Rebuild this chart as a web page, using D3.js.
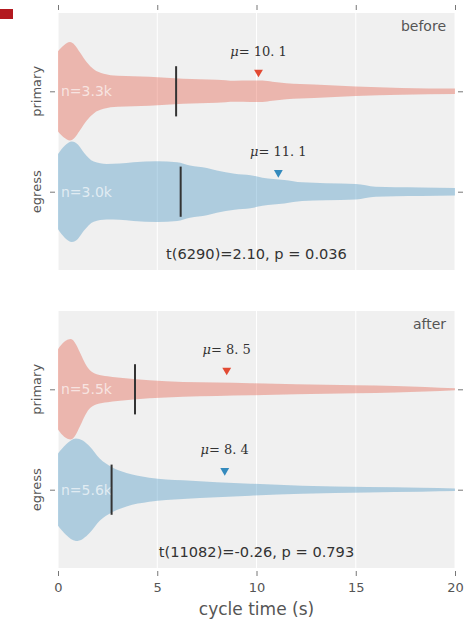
<!DOCTYPE html>
<html lang="en">
<head>
<meta charset="UTF-8">
<title>cycle time</title>
<script src="https://d3js.org/d3.v7.min.js"></script>
<style>
  body { margin: 0; background: #fff; }
  text { font-family: "DejaVu Sans", sans-serif; }
</style>
</head>
<body>
<div id="chart"></div>
<script>
var width = 475, height = 621;

var panels = ["before", "after"];
var categories = ["primary", "egress"];
var tickValues = [0, 5, 10, 15, 20];
var counts = [["n=3.3k", "n=3.0k"], ["n=5.5k", "n=5.6k"]];
var medians = [[5.95, 6.18], [3.88, 2.70]];
var means = [[10.1, 11.1], [8.5, 8.4]];
var stats = ["t(6290)=2.10, p = 0.036", "t(11082)=-0.26, p = 0.793"];

var beforePrimaryX = [0, 0.3, 0.6, 0.85, 1.1, 1.45, 1.8, 2.3, 3.0, 4.6, 6.3, 8.0, 8.9, 9.7, 10.3, 10.8, 11.5, 12.9, 15, 17.3, 20];
var beforePrimaryW = [0.40, 0.46, 0.49, 0.46, 0.39, 0.29, 0.22, 0.175, 0.155, 0.145, 0.125, 0.115, 0.105, 0.107, 0.107, 0.095, 0.08, 0.067, 0.047, 0.034, 0.027];
var beforeEgressX = [0, 0.35, 0.7, 1.0, 1.3, 1.8, 2.45, 3.1, 3.8, 5.0, 6.0, 6.65, 7.5, 8.0, 8.9, 9.7, 10.3, 11.4, 12.3, 13.5, 15, 16, 17, 18.3, 20];
var beforeEgressW = [0.375, 0.46, 0.50, 0.47, 0.39, 0.30, 0.277, 0.28, 0.293, 0.303, 0.293, 0.26, 0.235, 0.21, 0.18, 0.165, 0.14, 0.117, 0.093, 0.085, 0.077, 0.05, 0.045, 0.043, 0.037];
var afterPrimaryX = [0, 0.3, 0.65, 0.9, 1.1, 1.45, 1.95, 2.5, 3.0, 4.6, 6.3, 8.0, 9.7, 12, 15, 17, 18.5, 20];
var afterPrimaryW = [0.40, 0.47, 0.50, 0.45, 0.37, 0.23, 0.15, 0.13, 0.117, 0.09, 0.073, 0.067, 0.06, 0.05, 0.04, 0.033, 0.023, 0.01];
var afterEgressX = [0, 0.4, 0.9, 1.25, 1.6, 2.1, 2.7, 3.45, 4.6, 6.3, 8.0, 9.7, 12.3, 15.6, 18.3, 20];
var afterEgressW = [0.36, 0.45, 0.51, 0.49, 0.43, 0.31, 0.227, 0.167, 0.12, 0.093, 0.075, 0.06, 0.04, 0.027, 0.02, 0.013];

var colors = ["#E24A33", "#348ABD"];

function zip(xs, ws) {
    return xs.map(function (x, i) { return {x: x, w: ws[i]}; });
}
var profiles = [
    [zip(beforePrimaryX, beforePrimaryW), zip(beforeEgressX, beforeEgressW)],
    [zip(afterPrimaryX, afterPrimaryW), zip(afterEgressX, afterEgressW)]
];

var left = 58, right = 455, panelH = 257;
var panelTops = [13, 311];

var x = d3.scaleLinear().domain([0, 20]).range([left, right]);

var svg = d3.select("#chart")
    .append("svg")
    .attr("width", width)
    .attr("height", height);

svg.append("rect")
    .attr("x", 0).attr("y", 9)
    .attr("width", 13).attr("height", 10)
    .attr("fill", "#b3191f");

panels.forEach(function (name, p) {
    var top = panelTops[p];
    var y = d3.scaleLinear().domain([-0.78, 1.78]).range([top, top + panelH]);
    var unit = y(1) - y(0);
    var g = svg.append("g");

    g.append("rect")
        .attr("x", left).attr("y", top)
        .attr("width", right - left).attr("height", panelH)
        .attr("fill", "#f0f0f0");

    g.selectAll(".grid")
        .data(tickValues)
        .enter().append("line")
        .attr("x1", function (d) { return x(d); })
        .attr("x2", function (d) { return x(d); })
        .attr("y1", top).attr("y2", top + panelH)
        .attr("stroke", "#fff")
        .attr("stroke-width", 1);

    g.append("clipPath").attr("id", "clip" + p)
        .append("rect")
        .attr("x", left).attr("y", top)
        .attr("width", right - left).attr("height", panelH);

    categories.forEach(function (cat, c) {
        var cy = y(c);
        var area = d3.area()
            .x(function (d) { return x(d.x); })
            .y0(function (d) { return cy - d.w * unit; })
            .y1(function (d) { return cy + d.w * unit; })
            .curve(d3.curveMonotoneX);

        g.append("path")
            .attr("d", area(profiles[p][c]))
            .attr("clip-path", "url(#clip" + p + ")")
            .attr("fill", colors[c])
            .attr("fill-opacity", 0.35);

        g.append("text")
            .attr("x", x(0) + 3)
            .attr("y", cy)
            .attr("dy", "0.36em")
            .attr("fill", "#fff")
            .attr("fill-opacity", 0.65)
            .attr("font-size", "14px")
            .text(counts[p][c]);

        g.append("line")
            .attr("x1", x(medians[p][c])).attr("x2", x(medians[p][c]))
            .attr("y1", cy - 0.25 * unit).attr("y2", cy + 0.25 * unit)
            .attr("stroke", "#333")
            .attr("stroke-width", 2);

        g.append("path")
            .attr("d", d3.symbol().type(d3.symbolTriangle).size(34)())
            .attr("transform", "translate(" + x(means[p][c]) + "," + (cy - 0.19 * unit) + ") rotate(180)")
            .attr("fill", colors[c]);

        var mu = g.append("text")
            .attr("x", x(means[p][c]))
            .attr("y", cy - 0.355 * unit)
            .attr("text-anchor", "middle")
            .attr("fill", "#333")
            .attr("font-size", "13px")
            .style("font-family", "'DejaVu Serif', serif");
        mu.append("tspan").attr("font-style", "italic").text("\u03bc");
        mu.append("tspan").text("= " + d3.format(".1f")(means[p][c]).replace(".", ". "));

        g.append("text")
            .attr("x", 41)
            .attr("y", cy)
            .attr("transform", "rotate(-90," + 41 + "," + cy + ")")
            .attr("text-anchor", "middle")
            .attr("fill", "#555")
            .attr("font-size", "13px")
            .text(cat);
    });

    g.append("text")
        .attr("x", x(10))
        .attr("y", top + panelH - 11)
        .attr("text-anchor", "middle")
        .attr("fill", "#333")
        .attr("font-size", "14.6px")
        .text(stats[p]);

    g.append("text")
        .attr("x", 446)
        .attr("y", top + 18)
        .attr("text-anchor", "end")
        .attr("fill", "#555")
        .attr("font-size", "14px")
        .text(name);

    var yAxisL = g.append("g")
        .attr("transform", "translate(" + (left - 3) + ",0)")
        .call(d3.axisLeft(y).tickValues([0, 1]).tickSize(5).tickFormat(""));
    var yAxisR = g.append("g")
        .attr("transform", "translate(" + (right + 3) + ",0)")
        .call(d3.axisRight(y).tickValues([0, 1]).tickSize(5).tickFormat(""));

    var xAxis;
    if (p === 0) {
        xAxis = g.append("g")
            .attr("transform", "translate(0," + (top - 3) + ")")
            .call(d3.axisTop(x).tickValues(tickValues).tickSize(5).tickFormat(""));
    } else {
        xAxis = g.append("g")
            .attr("transform", "translate(0," + (top + panelH + 3) + ")")
            .call(d3.axisBottom(x).tickValues(tickValues).tickSize(5).tickPadding(7));
    }

    [yAxisL, yAxisR, xAxis].forEach(function (a) {
        a.select(".domain").remove();
        a.selectAll(".tick line").attr("stroke", "#777");
        a.selectAll(".tick text")
            .attr("fill", "#555")
            .attr("font-size", "13px")
            .attr("font-family", "DejaVu Sans, sans-serif");
    });
});

svg.append("text")
    .attr("x", x(10))
    .attr("y", 615)
    .attr("text-anchor", "middle")
    .attr("fill", "#555")
    .attr("font-size", "17px")
    .text("cycle time (s)");
</script>
</body>
</html>
